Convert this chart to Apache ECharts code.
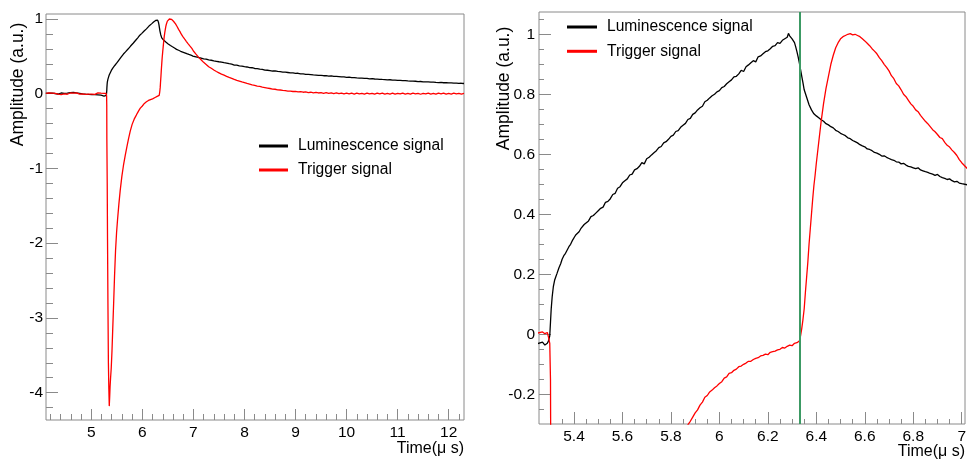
<!DOCTYPE html>
<html>
<head>
<meta charset="utf-8">
<title>Luminescence and trigger signals</title>
<script src="https://cdn.jsdelivr.net/npm/echarts@6/dist/echarts.min.js"></script>
<style>
  html, body { margin: 0; padding: 0; background: #ffffff; }
  #chart { width: 970px; height: 461px; }
</style>
</head>
<body>
<div id="chart"></div>
<script>
// ---- Waveforms: [time (µs), amplitude (a.u.)] ----
const lumBaseline = [
  [4.11,0.004],[4.14,-0.005],[4.17,0.007],[4.20,-0.002],[4.23,0.009],[4.26,-0.004],[4.29,0.003],[4.32,0.008],
  [4.35,-0.006],[4.38,0.002],[4.41,0.010],[4.44,-0.003],[4.47,0.006],[4.50,0.001],[4.53,0.009],[4.56,0.004],
  [4.59,0.016],[4.62,0.011],[4.65,0.018],[4.68,0.007],[4.71,0.012],[4.74,0.002],[4.77,0.006],[4.80,-0.004],
  [4.83,-0.001],[4.86,-0.010],[4.89,-0.006],[4.92,-0.014],[4.95,-0.009],[4.98,-0.016],[5.01,-0.011],[5.04,-0.019],
  [5.07,-0.013],[5.10,-0.021],[5.13,-0.016],[5.16,-0.024],[5.19,-0.019],[5.22,-0.027],[5.25,-0.031],[5.27,-0.026],
  [5.28,-0.036],[5.29,-0.030]
];
const lumRise = [
  [5.295,-0.022],[5.300,-0.005],[5.303,0.040],[5.306,0.085],[5.310,0.125],[5.315,0.160],[5.320,0.180],[5.325,0.192],
  [5.330,0.203],[5.338,0.222],[5.345,0.235],[5.351,0.250],[5.358,0.262],[5.365,0.270],[5.372,0.281],[5.379,0.292],
  [5.386,0.300],[5.393,0.312],[5.400,0.318],[5.407,0.331],[5.414,0.336],[5.421,0.342],[5.428,0.352],[5.435,0.355],
  [5.442,0.366],[5.449,0.370],[5.46,0.378],[5.47,0.392],[5.48,0.396],[5.49,0.404],[5.50,0.412],[5.51,0.420],
  [5.52,0.424],[5.53,0.440],[5.54,0.443],[5.55,0.452],[5.56,0.466],[5.57,0.470],[5.58,0.487],[5.59,0.492],
  [5.60,0.505],[5.61,0.512],[5.62,0.518],[5.63,0.531],[5.64,0.534],[5.65,0.548],[5.66,0.552],[5.67,0.560],
  [5.68,0.572],[5.69,0.568],[5.70,0.585],[5.71,0.590],[5.72,0.598],[5.73,0.605],[5.74,0.612],[5.75,0.622],
  [5.76,0.626],[5.77,0.638],[5.78,0.642],[5.79,0.650],[5.80,0.660],[5.81,0.664],[5.82,0.676],[5.83,0.679],
  [5.84,0.690],[5.85,0.697],[5.86,0.703],[5.87,0.716],[5.88,0.720],[5.89,0.733],[5.90,0.738],[5.91,0.748],
  [5.92,0.755],[5.93,0.760],[5.94,0.775],[5.95,0.780],[5.96,0.788],[5.97,0.795],[5.98,0.800],[5.99,0.808],
  [6.00,0.812],[6.01,0.822],[6.02,0.826],[6.03,0.835],[6.04,0.842],[6.05,0.848],[6.06,0.858],[6.07,0.860],
  [6.08,0.868],[6.09,0.880],[6.10,0.876],[6.11,0.892],[6.12,0.898],[6.13,0.905],[6.14,0.912],[6.15,0.908],
  [6.16,0.925],[6.17,0.928],[6.18,0.935],[6.19,0.942],[6.20,0.945],[6.21,0.952],[6.22,0.960],[6.23,0.962],
  [6.24,0.972],[6.25,0.970],[6.26,0.980],[6.27,0.985],[6.28,0.990],[6.285,1.003],[6.29,0.995],[6.30,0.985],
  [6.31,0.972],[6.315,0.958],[6.32,0.942],[6.325,0.925],[6.33,0.905],[6.335,0.882],[6.34,0.860],[6.345,0.838],
  [6.35,0.815],[6.36,0.790],[6.37,0.765],[6.38,0.748],[6.39,0.735],[6.40,0.728],[6.41,0.722],[6.42,0.715],
  [6.43,0.710],[6.44,0.702],[6.45,0.698],[6.46,0.692],[6.47,0.688],[6.48,0.680],[6.49,0.676],[6.50,0.670],
  [6.51,0.666],[6.52,0.662],[6.53,0.655],[6.54,0.652],[6.55,0.646],[6.56,0.642],[6.57,0.638],[6.58,0.632],
  [6.59,0.628],[6.60,0.625],[6.61,0.618],[6.62,0.616],[6.63,0.612],[6.64,0.606],[6.65,0.604],[6.66,0.600],
  [6.67,0.594],[6.68,0.595],[6.69,0.590],[6.70,0.586],[6.71,0.582],[6.72,0.580],[6.73,0.575],[6.74,0.574],
  [6.75,0.568],[6.76,0.570],[6.77,0.564],[6.78,0.560],[6.79,0.558],[6.80,0.555],[6.81,0.552],[6.82,0.555],
  [6.83,0.548],[6.84,0.545],[6.85,0.542],[6.86,0.540],[6.87,0.536],[6.88,0.534],[6.89,0.530],[6.90,0.533],
  [6.91,0.526],[6.92,0.522],[6.93,0.520],[6.94,0.516],[6.95,0.518],[6.96,0.512],[6.97,0.508],[6.98,0.510],
  [6.99,0.504],[7.00,0.502]
];
const lumTail = [
  [7.05,0.494],[7.10,0.485],[7.15,0.478],[7.20,0.466],[7.25,0.462],[7.30,0.452],[7.35,0.448],[7.40,0.440],
  [7.45,0.434],[7.50,0.428],[7.55,0.424],[7.60,0.415],[7.65,0.410],[7.70,0.402],[7.75,0.396],[7.80,0.384],
  [7.85,0.382],[7.90,0.372],[7.95,0.370],[8.00,0.362],[8.05,0.358],[8.10,0.350],[8.15,0.348],[8.20,0.338],
  [8.25,0.336],[8.30,0.328],[8.35,0.326],[8.40,0.316],[8.45,0.314],[8.50,0.310],[8.55,0.304],[8.60,0.306],
  [8.65,0.298],[8.70,0.296],[8.75,0.290],[8.80,0.288],[8.85,0.284],[8.90,0.280],[8.95,0.278],[9.00,0.272],
  [9.05,0.274],[9.10,0.266],[9.15,0.265],[9.20,0.260],[9.25,0.258],[9.30,0.255],[9.35,0.252],[9.40,0.250],
  [9.45,0.246],[9.50,0.247],[9.55,0.241],[9.60,0.242],[9.65,0.236],[9.70,0.238],[9.75,0.232],[9.80,0.231],
  [9.85,0.228],[9.90,0.225],[9.95,0.226],[10.00,0.220],[10.05,0.222],[10.10,0.216],[10.15,0.215],[10.20,0.212],
  [10.25,0.210],[10.30,0.208],[10.35,0.205],[10.40,0.206],[10.45,0.200],[10.50,0.202],[10.55,0.197],[10.60,0.196],
  [10.65,0.193],[10.70,0.191],[10.75,0.190],[10.80,0.186],[10.85,0.187],[10.90,0.182],[10.95,0.183],[11.00,0.179],
  [11.05,0.178],[11.10,0.175],[11.15,0.176],[11.20,0.171],[11.25,0.170],[11.30,0.168],[11.35,0.167],[11.40,0.163],
  [11.45,0.164],[11.50,0.160],[11.55,0.158],[11.60,0.159],[11.65,0.155],[11.70,0.156],[11.75,0.152],[11.80,0.150],
  [11.85,0.151],[11.90,0.147],[11.95,0.148],[12.00,0.144],[12.05,0.145],[12.10,0.141],[12.15,0.142],[12.20,0.139],
  [12.25,0.140],[12.30,0.137]
];

const trigBaseline = [
  [4.11,0.006],[4.14,-0.008],[4.17,0.012],[4.20,-0.004],[4.23,0.009],[4.26,-0.010],[4.29,0.005],[4.32,0.014],
  [4.35,-0.006],[4.38,0.003],[4.41,-0.011],[4.44,0.008],[4.47,-0.002],[4.50,0.012],[4.53,-0.007],[4.56,0.004],
  [4.59,0.010],[4.62,-0.005],[4.65,0.007],[4.68,-0.009],[4.71,0.011],[4.74,0.001],[4.77,-0.006],[4.80,0.009],
  [4.83,-0.003],[4.86,0.013],[4.89,-0.008],[4.92,0.005],[4.95,-0.004],[4.98,0.010],[5.01,-0.006],[5.04,0.008],
  [5.07,-0.009],[5.10,0.004],[5.13,0.011],[5.16,-0.005],[5.19,0.007],[5.22,-0.003],[5.25,0.004],[5.27,0.008],
  [5.28,0.002],[5.29,0.006],[5.295,-0.010]
];
const trigPulse = [
  [5.300,-0.030],[5.303,-0.150],[5.305,-0.610],[5.312,-1.200],[5.318,-1.950],[5.326,-2.800],[5.335,-3.600],
  [5.344,-3.950],[5.352,-4.180],[5.360,-4.060],[5.368,-3.920],[5.378,-3.800],[5.390,-3.680],[5.405,-3.450],
  [5.420,-3.150],[5.437,-2.820],[5.455,-2.450],[5.475,-2.100],[5.495,-1.860],[5.515,-1.680],[5.540,-1.480],
  [5.567,-1.290],[5.600,-1.100],[5.630,-0.960],[5.665,-0.825],[5.700,-0.700],[5.730,-0.600],[5.763,-0.500],
  [5.800,-0.410],[5.840,-0.340],[5.874,-0.297]
];
const trigRecovery = [
  [5.88,-0.290],[5.89,-0.276],[5.90,-0.262],[5.91,-0.252],[5.92,-0.236],[5.93,-0.226],[5.94,-0.210],[5.95,-0.204],
  [5.96,-0.192],[5.97,-0.186],[5.98,-0.178],[5.99,-0.172],[6.00,-0.164],[6.01,-0.158],[6.02,-0.146],[6.03,-0.142],
  [6.04,-0.130],[6.05,-0.128],[6.06,-0.120],[6.07,-0.116],[6.08,-0.108],[6.09,-0.106],[6.10,-0.100],[6.11,-0.096],
  [6.12,-0.090],[6.13,-0.090],[6.14,-0.084],[6.15,-0.080],[6.16,-0.078],[6.17,-0.072],[6.18,-0.070],[6.19,-0.066],
  [6.20,-0.068],[6.21,-0.060],[6.22,-0.058],[6.23,-0.056],[6.24,-0.052],[6.25,-0.050],[6.26,-0.044],[6.27,-0.046],
  [6.28,-0.040],[6.29,-0.036],[6.30,-0.038],[6.31,-0.030],[6.32,-0.028],[6.33,-0.022]
];
const trigPeak = [
  [6.335,-0.005],[6.34,0.020],[6.345,0.050],[6.35,0.085],[6.355,0.140],[6.36,0.190],[6.365,0.240],[6.37,0.300],
  [6.375,0.350],[6.38,0.400],[6.385,0.450],[6.39,0.495],[6.395,0.530],[6.40,0.570],[6.41,0.640],[6.42,0.710],
  [6.43,0.770],[6.44,0.820],[6.45,0.860],[6.46,0.900],[6.47,0.930],[6.48,0.955],[6.49,0.972],[6.50,0.985],
  [6.51,0.992],[6.52,0.996],[6.53,1.000],[6.54,1.002],[6.55,0.998],[6.56,1.000],[6.57,0.996],[6.58,0.992],
  [6.59,0.985],[6.60,0.978],[6.61,0.970],[6.62,0.962],[6.63,0.952],[6.64,0.944],[6.65,0.935],[6.66,0.922],
  [6.67,0.912],[6.68,0.900],[6.69,0.890],[6.70,0.878],[6.71,0.862],[6.72,0.852],[6.73,0.836],[6.74,0.828],
  [6.75,0.815],[6.76,0.800],[6.77,0.792],[6.78,0.780],[6.79,0.768],[6.80,0.760],[6.81,0.748],[6.82,0.742],
  [6.83,0.730],[6.84,0.720],[6.85,0.710],[6.86,0.702],[6.87,0.692],[6.88,0.682],[6.89,0.675],[6.90,0.666],
  [6.91,0.656],[6.92,0.652],[6.93,0.640],[6.94,0.630],[6.95,0.624],[6.96,0.614],[6.97,0.606],[6.98,0.596],
  [6.99,0.582],[7.00,0.572]
];
const trigTail = [
  [7.05,0.530],[7.10,0.490],[7.15,0.455],[7.20,0.420],[7.25,0.392],[7.30,0.362],[7.35,0.340],[7.40,0.318],
  [7.45,0.298],[7.50,0.280],[7.55,0.262],[7.60,0.248],[7.65,0.232],[7.70,0.218],[7.75,0.206],[7.80,0.192],
  [7.85,0.180],[7.90,0.170],[7.95,0.158],[8.00,0.148],[8.05,0.138],[8.10,0.130],[8.15,0.118],[8.20,0.112],
  [8.25,0.102],[8.30,0.098],[8.35,0.088],[8.40,0.082],[8.45,0.076],[8.50,0.070],[8.55,0.062],[8.60,0.060],
  [8.65,0.052],[8.70,0.050],[8.75,0.044],[8.80,0.042],[8.85,0.036],[8.90,0.036],[8.95,0.030],[9.00,0.032],
  [9.05,0.024],[9.10,0.028],[9.15,0.020],[9.20,0.024],[9.25,0.016],[9.30,0.020],[9.35,0.012],[9.40,0.018],
  [9.45,0.010],[9.50,0.016],[9.55,0.006],[9.60,0.014],[9.65,0.004],[9.70,0.012],[9.75,0.002],[9.80,0.010],
  [9.85,0.000],[9.90,0.009],[9.95,-0.002],[10.00,0.008],[10.05,-0.003],[10.10,0.007],[10.15,-0.004],[10.20,0.009],
  [10.25,-0.002],[10.30,0.006],[10.35,-0.005],[10.40,0.008],[10.45,-0.003],[10.50,0.006],[10.55,-0.006],[10.60,0.007],
  [10.65,-0.002],[10.70,0.009],[10.75,-0.005],[10.80,0.005],[10.85,-0.004],[10.90,0.008],[10.95,-0.006],[11.00,0.006],
  [11.05,-0.003],[11.10,0.009],[11.15,-0.005],[11.20,0.004],[11.25,-0.006],[11.30,0.008],[11.35,-0.002],[11.40,0.006],
  [11.45,-0.007],[11.50,0.005],[11.55,-0.003],[11.60,0.009],[11.65,-0.004],[11.70,0.006],[11.75,-0.006],[11.80,0.007],
  [11.85,-0.002],[11.90,0.008],[11.95,-0.005],[12.00,0.005],[12.05,-0.004],[12.10,0.008],[12.15,-0.003],[12.20,0.006],
  [12.25,-0.005],[12.30,0.004]
];

// ---- Axis ticks ----
const fullTimeLabels = [5, 6, 7, 8, 9, 10, 11, 12];
const fullAmpLabels = [-4, -3, -2, -1, 0, 1];
const zoomTimeLabels = [5.4, 5.6, 5.8, 6, 6.2, 6.4, 6.6, 6.8, 7];
const zoomAmpLabels = [-0.2, 0, 0.2, 0.4, 0.6, 0.8, 1];
const triggerTime = 6.33;

const seriesNames = ['Luminescence signal', 'Trigger signal'];

const luminescence = lumBaseline.concat(lumRise, lumTail);
const trigger = trigBaseline.concat(trigPulse, trigRecovery, trigPeak, trigTail);

function steps(from, to, step) {
  const out = [];
  const n = Math.round((to - from) / step);
  for (let i = 0; i <= n; i++) out.push(+(from + i * step).toFixed(4));
  return out;
}

const FONT = "'Liberation Sans', Arial, Helvetica, sans-serif";
const FRAME = '#8a8a8a';

function axis(kind, grid, min, max, ticks, len, labels, margin) {
  return {
    type: 'value', gridIndex: grid, min: min, max: max,
    position: kind === 'x' ? 'bottom' : 'left',
    axisLine: { show: false, onZero: false },
    splitLine: { show: false },
    axisTick: { show: true, inside: true, length: len, customValues: ticks,
                lineStyle: { color: FRAME, width: 1 } },
    axisLabel: { show: !!labels, customValues: labels || [], margin: margin,
                 color: '#000', fontFamily: FONT, fontSize: 15.5 },
    axisPointer: { show: false }
  };
}

const chart = echarts.init(document.getElementById('chart'), null, { renderer: 'canvas' });

const lineStyle = (c) => ({ color: c, width: 1.3 });

const legendText = { color: '#000', fontFamily: FONT, fontSize: 15.6, lineHeight: 16, padding: [0, 0, 0, 5] };

chart.setOption({
  animation: false,
  backgroundColor: '#ffffff',
  textStyle: { fontFamily: FONT },
  grid: [
    { left: 46, top: 14, width: 418, height: 406, show: true, borderColor: FRAME, borderWidth: 1, backgroundColor: '#fff' },
    { left: 539, top: 12, width: 426, height: 412, show: true, borderColor: FRAME, borderWidth: 1, backgroundColor: '#fff' }
  ],
  xAxis: [
    axis('x', 0, 4.113, 12.3, fullTimeLabels, 11, fullTimeLabels, 5),
    axis('x', 0, 4.113, 12.3, steps(4.2, 12.2, 0.2), 6, null, 5),
    axis('x', 1, 5.2556, 7.0136, zoomTimeLabels, 12, zoomTimeLabels, 5),
    axis('x', 1, 5.2556, 7.0136, steps(5.3, 7.0, 0.05), 5, null, 5)
  ],
  yAxis: [
    axis('y', 0, -4.366, 1.067, fullAmpLabels, 12, fullAmpLabels, 3),
    axis('y', 0, -4.366, 1.067, steps(-4.2, 1.0, 0.2), 7, null, 3),
    axis('y', 1, -0.299, 1.0743, zoomAmpLabels, 12, zoomAmpLabels, 4),
    axis('y', 1, -0.299, 1.0743, steps(-0.25, 1.05, 0.05), 5, null, 4)
  ],
  legend: [
    { data: seriesNames, orient: 'vertical', left: 259, top: 138, padding: 0,
      icon: 'rect', itemWidth: 29, itemHeight: 3, itemGap: 8,
      textStyle: legendText, selectedMode: false },
    { data: seriesNames, orient: 'vertical', left: 567, top: 19, padding: 0,
      icon: 'rect', itemWidth: 30, itemHeight: 3, itemGap: 8.3,
      textStyle: legendText, selectedMode: false }
  ],
  graphic: [
    { type: 'text', x: 18, y: 22.7, rotation: Math.PI / 2,
      style: { text: 'Amplitude (a.u.)', fill: '#000', font: "17.5px " + FONT, align: 'right', verticalAlign: 'middle' } },
    { type: 'text', x: 504, y: 26.7, rotation: Math.PI / 2,
      style: { text: 'Amplitude (a.u.)', fill: '#000', font: "17.5px " + FONT, align: 'right', verticalAlign: 'middle' } },
    { type: 'text', x: 464, y: 448.3,
      style: { text: 'Time(μ s)', fill: '#000', font: "16px " + FONT, align: 'right', verticalAlign: 'middle' } },
    { type: 'text', x: 965, y: 451.7,
      style: { text: 'Time(μ s)', fill: '#000', font: "16px " + FONT, align: 'right', verticalAlign: 'middle' } }
  ],
  series: [
    { name: seriesNames[0], type: 'line', xAxisIndex: 0, yAxisIndex: 0, data: luminescence,
      symbol: 'none', color: '#000', lineStyle: lineStyle('#000'), silent: true, clip: true },
    { name: seriesNames[1], type: 'line', xAxisIndex: 0, yAxisIndex: 0, data: trigger,
      symbol: 'none', color: '#ff0000', lineStyle: lineStyle('#ff0000'), silent: true, clip: true },
    { name: seriesNames[0], type: 'line', xAxisIndex: 2, yAxisIndex: 2, data: luminescence,
      symbol: 'none', color: '#000', lineStyle: lineStyle('#000'), silent: true, clip: true },
    { name: seriesNames[1], type: 'line', xAxisIndex: 2, yAxisIndex: 2, data: trigger,
      symbol: 'none', color: '#ff0000', lineStyle: lineStyle('#ff0000'), silent: true, clip: true,
      markLine: { silent: true, symbol: 'none', label: { show: false },
                  emphasis: { disabled: true },
                  lineStyle: { color: '#3c9a64', width: 2, type: 'solid' },
                  data: [{ xAxis: triggerTime }] } }
  ]
});
</script>
</body>
</html>
